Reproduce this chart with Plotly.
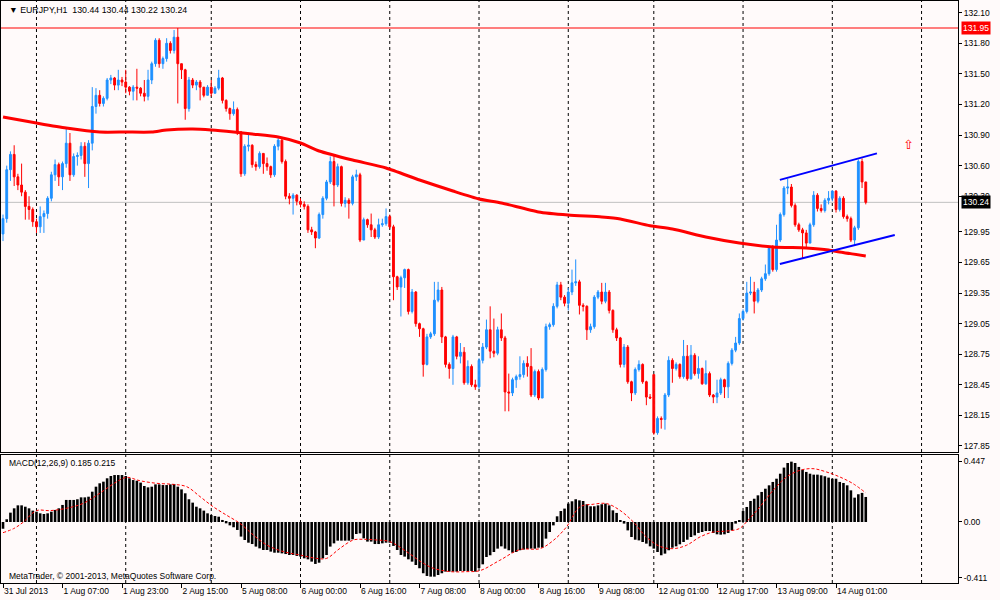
import plotly.graph_objects as go

# EURJPY H1, bar index 0 = 31 Jul 2013 15:00, last bar (232) = 14 Aug 2013 09:00
close = [130.08, 130.56, 130.71, 130.49, 130.41, 130.34, 130.20, 130.17, 130.05, 130.00,
         130.10, 130.13, 130.28, 130.51, 130.61, 130.49, 130.62, 130.82, 130.51, 130.69,
         130.70, 130.79, 130.62, 130.82, 131.18, 131.29, 131.21, 131.26, 131.44, 131.46,
         131.39, 131.44, 131.42, 131.37, 131.33, 131.37, 131.36, 131.31, 131.28, 131.44,
         131.60, 131.83, 131.60, 131.65, 131.80, 131.73, 131.86, 131.60, 131.54, 131.16,
         131.44, 131.39, 131.42, 131.37, 131.29, 131.37, 131.31, 131.36, 131.46, 131.24,
         131.16, 131.11, 131.15, 130.93, 130.52, 130.79, 130.80, 130.61, 130.59, 130.72,
         130.62, 130.59, 130.51, 130.79, 130.85, 130.64, 130.30, 130.28, 130.31, 130.25,
         130.22, 130.20, 129.97, 129.95, 129.89, 130.12, 130.28, 130.44, 130.64, 130.41,
         130.59, 130.23, 130.26, 130.23, 130.49, 130.51, 129.87, 130.07, 130.02, 129.97,
         129.90, 130.02, 130.03, 130.10, 130.00, 129.51, 129.41, 129.50, 129.58, 129.17,
         129.36, 129.05, 129.00, 128.65, 128.92, 128.95, 129.28, 129.38, 128.92, 128.65,
         128.61, 128.92, 128.73, 128.77, 128.47, 128.63, 128.45, 128.43, 128.69, 128.82,
         128.99, 128.78, 128.76, 128.99, 128.91, 128.38, 128.37, 128.50, 128.53, 128.55,
         128.66, 128.63, 128.35, 128.58, 128.32, 128.60, 129.02, 129.04, 129.22, 129.43,
         129.31, 129.25, 129.36, 129.45, 129.46, 129.23, 129.22, 128.99, 129.02, 129.31,
         129.36, 129.27, 129.36, 129.18, 128.99, 128.91, 128.65, 128.82, 128.48, 128.37,
         128.60, 128.65, 128.48, 128.33, 128.32, 127.98, 128.12, 128.11, 128.35, 128.69,
         128.61, 128.65, 128.53, 128.73, 128.51, 128.74, 128.56, 128.61, 128.46, 128.56,
         128.35, 128.33, 128.37, 128.50, 128.43, 128.66, 128.79, 128.86, 129.10, 129.17,
         129.35, 129.36, 129.27, 129.38, 129.49, 129.54, 129.79, 129.58, 129.87, 130.12,
         130.38, 130.39, 130.21, 130.02, 129.97, 129.94, 129.84, 130.02, 130.31, 130.18,
         130.16, 130.26, 130.28, 130.35, 130.17, 130.28, 130.10, 130.08, 129.87, 129.99,
         130.64, 130.44, 130.24]

high = [130.12, 130.60, 130.74, 130.80, 130.52, 130.62, 130.36, 130.30, 130.19, 130.08,
        130.20, 130.16, 130.30, 130.54, 130.66, 130.63, 130.64, 130.97, 130.92, 130.72,
        130.73, 130.83, 130.83, 130.85, 131.37, 131.36, 131.34, 131.28, 131.46, 131.49,
        131.47, 131.54, 131.47, 131.54, 131.38, 131.39, 131.55, 131.37, 131.44, 131.54,
        131.62, 131.85, 131.85, 131.67, 131.85, 131.82, 131.93, 131.95, 131.60, 131.55,
        131.47, 131.46, 131.44, 131.44, 131.37, 131.39, 131.44, 131.38, 131.54, 131.47,
        131.25, 131.17, 131.23, 131.17, 130.94, 130.81, 130.92, 130.81, 130.64, 130.74,
        130.72, 130.68, 130.60, 130.81, 130.87, 130.87, 130.66, 130.33, 130.33, 130.32,
        130.28, 130.25, 130.22, 130.00, 129.96, 130.14, 130.30, 130.46, 130.69, 130.70,
        130.62, 130.60, 130.29, 130.28, 130.51, 130.56, 130.53, 130.09, 130.08, 130.13,
        129.99, 130.08, 130.08, 130.18, 130.12, 130.02, 129.52, 129.52, 129.59, 129.59,
        129.39, 129.37, 129.06, 129.01, 128.95, 128.97, 129.46, 129.46, 129.41, 128.93,
        128.67, 128.94, 128.93, 128.86, 128.82, 128.69, 128.65, 128.50, 128.71, 128.86,
        129.09, 129.22, 129.10, 129.02, 129.15, 128.93, 128.56, 128.52, 128.55, 128.73,
        128.69, 128.73, 128.81, 128.60, 128.60, 128.62, 129.05, 129.06, 129.25, 129.46,
        129.46, 129.33, 129.40, 129.58, 129.68, 129.48, 129.25, 129.23, 129.05, 129.33,
        129.38, 129.45, 129.45, 129.38, 129.19, 129.01, 128.92, 128.85, 128.84, 128.49,
        128.62, 128.69, 128.66, 128.49, 128.36, 128.55, 128.14, 128.14, 128.37, 128.73,
        128.71, 128.67, 128.66, 128.89, 128.84, 128.84, 128.76, 128.73, 128.62, 128.69,
        128.58, 128.36, 128.50, 128.52, 128.51, 128.68, 128.81, 128.92, 129.15, 129.19,
        129.46, 129.51, 129.46, 129.40, 129.51, 129.63, 129.81, 129.82, 130.02, 130.14,
        130.40, 130.47, 130.42, 130.23, 130.04, 129.99, 129.97, 130.04, 130.35, 130.33,
        130.22, 130.28, 130.35, 130.36, 130.36, 130.30, 130.30, 130.12, 130.10, 130.01,
        130.66, 130.67, 130.44]

low = [129.86, 130.04, 130.45, 130.40, 130.36, 130.30, 130.07, 130.07, 130.00, 129.94,
       129.94, 129.94, 130.08, 130.25, 130.45, 130.40, 130.36, 130.58, 130.45, 130.49,
       130.60, 130.66, 130.49, 130.38, 130.75, 131.11, 131.18, 131.18, 131.24, 131.40,
       131.34, 131.34, 131.38, 131.31, 131.29, 131.24, 131.24, 131.28, 131.23, 131.24,
       131.40, 131.57, 131.56, 131.55, 131.62, 131.70, 131.70, 131.21, 131.45, 131.05,
       131.13, 131.36, 131.34, 131.24, 131.27, 131.29, 131.28, 131.31, 131.34, 131.21,
       131.13, 131.05, 131.09, 130.90, 130.49, 130.50, 130.74, 130.58, 130.55, 130.57,
       130.52, 130.55, 130.48, 130.49, 130.75, 130.62, 130.27, 130.22, 130.12, 130.21,
       130.19, 130.17, 129.94, 129.92, 129.79, 129.88, 130.08, 130.26, 130.42, 130.20,
       130.39, 130.20, 130.19, 130.08, 130.21, 130.45, 129.85, 129.87, 129.99, 129.90,
       129.88, 129.88, 130.00, 130.01, 129.98, 129.28, 129.38, 129.12, 129.40, 129.14,
       129.15, 129.02, 128.92, 128.53, 128.64, 128.90, 128.93, 129.26, 128.86, 128.62,
       128.51, 128.45, 128.70, 128.66, 128.45, 128.45, 128.43, 128.40, 128.41, 128.66,
       128.80, 128.71, 128.72, 128.74, 128.88, 128.19, 128.19, 128.34, 128.42, 128.50,
       128.52, 128.53, 128.33, 128.33, 128.30, 128.32, 128.58, 128.99, 129.02, 129.20,
       129.28, 129.22, 129.18, 129.33, 129.42, 129.14, 129.17, 128.89, 128.96, 129.00,
       129.29, 129.24, 129.25, 129.15, 128.96, 128.88, 128.62, 128.62, 128.46, 128.29,
       128.35, 128.58, 128.46, 128.25, 128.31, 127.96, 127.96, 128.02, 128.01, 128.33,
       128.47, 128.59, 128.51, 128.51, 128.49, 128.50, 128.54, 128.51, 128.45, 128.45,
       128.33, 128.27, 128.27, 128.35, 128.32, 128.32, 128.64, 128.77, 128.84, 129.08,
       129.15, 129.33, 129.15, 129.25, 129.36, 129.47, 129.52, 129.56, 129.56, 129.85,
       130.10, 130.32, 130.19, 130.00, 129.95, 129.69, 129.80, 129.87, 130.00, 130.15,
       130.14, 130.14, 130.22, 130.25, 130.14, 130.15, 130.08, 130.05, 129.85, 129.82,
       129.97, 130.38, 130.22]

first_open = 129.93
gap_opens = {175: 128.55}  # monday open after the weekend gap

macd = [-0.050, 0.020, 0.069, 0.101, 0.123, 0.123, 0.113, 0.101, 0.084, 0.076,
        0.064, 0.059, 0.064, 0.076, 0.089, 0.101, 0.126, 0.163, 0.163, 0.163,
        0.168, 0.182, 0.182, 0.187, 0.224, 0.261, 0.286, 0.298, 0.323, 0.340,
        0.347, 0.347, 0.347, 0.340, 0.323, 0.310, 0.305, 0.291, 0.266, 0.256,
        0.261, 0.278, 0.278, 0.273, 0.273, 0.278, 0.281, 0.261, 0.241, 0.212,
        0.168, 0.143, 0.113, 0.101, 0.084, 0.064, 0.052, 0.044, 0.039, 0.015,
        -0.010, -0.025, -0.039, -0.059, -0.108, -0.133, -0.153, -0.163, -0.182, -0.195,
        -0.207, -0.207, -0.219, -0.227, -0.227, -0.232, -0.237, -0.244, -0.244, -0.251,
        -0.256, -0.269, -0.276, -0.293, -0.310, -0.301, -0.269, -0.244, -0.182, -0.158,
        -0.138, -0.138, -0.138, -0.138, -0.128, -0.089, -0.084, -0.121, -0.145, -0.145,
        -0.163, -0.163, -0.158, -0.153, -0.153, -0.177, -0.207, -0.244, -0.256, -0.276,
        -0.293, -0.318, -0.342, -0.379, -0.399, -0.404, -0.404, -0.392, -0.379, -0.367,
        -0.367, -0.367, -0.367, -0.362, -0.362, -0.362, -0.362, -0.367, -0.340, -0.313,
        -0.259, -0.246, -0.222, -0.197, -0.180, -0.197, -0.209, -0.227, -0.222, -0.209,
        -0.204, -0.200, -0.197, -0.197, -0.190, -0.190, -0.123, -0.074, -0.025, 0.042,
        0.081, 0.099, 0.136, 0.153, 0.168, 0.160, 0.155, 0.131, 0.116, 0.116,
        0.123, 0.131, 0.136, 0.123, 0.086, 0.067, 0.012, -0.012, -0.062, -0.111,
        -0.131, -0.136, -0.148, -0.160, -0.180, -0.197, -0.222, -0.246, -0.234, -0.209,
        -0.190, -0.180, -0.165, -0.148, -0.131, -0.111, -0.099, -0.081, -0.074, -0.067,
        -0.067, -0.081, -0.091, -0.094, -0.091, -0.081, -0.062, -0.012, 0.012, 0.081,
        0.111, 0.155, 0.172, 0.197, 0.222, 0.246, 0.271, 0.296, 0.320, 0.357,
        0.402, 0.436, 0.446, 0.436, 0.407, 0.387, 0.370, 0.357, 0.350, 0.350,
        0.345, 0.338, 0.328, 0.320, 0.320, 0.296, 0.288, 0.271, 0.234, 0.180,
        0.205, 0.215, 0.185]

signal_idx = [0, 3, 5.5, 9, 12.6, 17, 21.6, 26, 30.6, 33.2, 36.8, 41.3, 45.8, 49.4, 53,
              56.5, 60, 63.7, 67.3, 70.9, 75.4, 79.8, 84.3, 87, 90.6, 94.2, 96.9, 100.4,
              104, 108.5, 113, 115.7, 120.2, 124.6, 128.2, 133.6, 139, 144.4, 148, 151.5,
              155.1, 158.7, 162.3, 165.9, 169.5, 173, 176.6, 180.2, 183.8, 187.4, 191,
              194.5, 198, 199.9, 203.5, 207.1, 210.7, 214.3, 217.8, 221.4, 225, 228.6, 232]
signal_val = [-0.079, -0.047, 0.0, 0.084, 0.084, 0.101, 0.138, 0.212, 0.298, 0.330, 0.305,
              0.286, 0.278, 0.261, 0.187, 0.113, 0.052, -0.010, -0.096, -0.170, -0.219,
              -0.244, -0.269, -0.269, -0.195, -0.133, -0.128, -0.133, -0.145, -0.219,
              -0.305, -0.342, -0.367, -0.367, -0.360, -0.283, -0.204, -0.197, -0.136,
              -0.037, 0.111, 0.131, 0.136, 0.086, 0.0, -0.111, -0.180, -0.197, -0.172,
              -0.111, -0.074, -0.067, -0.049, 0.0, 0.111, 0.234, 0.333, 0.382, 0.394,
              0.370, 0.333, 0.283, 0.215]

# moving average (red) read at sample bars
ma_idx = [0, 9, 17, 26, 33, 40, 44, 51, 56, 62, 67, 74, 80, 85, 94, 103, 112, 121, 128,
          134, 144, 152, 161, 166, 174, 180, 189, 198, 207, 216, 222, 225, 232]
ma_val = [131.077, 131.018, 130.969, 130.930, 130.930, 130.930, 130.950, 130.959, 130.950,
          130.930, 130.910, 130.881, 130.822, 130.744, 130.655, 130.577, 130.459, 130.351,
          130.273, 130.234, 130.146, 130.116, 130.096, 130.077, 130.010, 129.978, 129.900,
          129.841, 129.802, 129.792, 129.773, 129.753, 129.714]

day_starts = [9, 33, 56, 80, 104, 128, 152, 175, 199, 223, 247]
tick_idx = [0, 16, 32, 48, 64, 80, 96, 112, 128, 144, 160, 176, 192, 208, 224]
tick_text = ["31 Jul 2013", "1 Aug 07:00", "1 Aug 23:00", "2 Aug 15:00", "5 Aug 08:00",
             "6 Aug 00:00", "6 Aug 16:00", "7 Aug 08:00", "8 Aug 00:00", "8 Aug 16:00",
             "9 Aug 08:00", "12 Aug 01:00", "12 Aug 17:00", "13 Aug 09:00", "14 Aug 01:00"]
price_ticks = [127.85, 128.15, 128.45, 128.75, 129.05, 129.35, 129.65, 129.95,
               130.30, 130.60, 130.90, 131.20, 131.50, 131.80, 132.10]
macd_ticks = [0.447, 0.0, -0.411]
macd_tick_text = ["0.447", "0.00", "-0.411"]

red_level = 131.95
bid = 130.24
chan_top_x, chan_top_y = [208.9, 235.0], [130.46, 130.72]
chan_bot_x, chan_bot_y = [208.9, 239.8], [129.635, 129.92]
arrow_x, arrow_y = [243.5], [130.80]

n = len(close)
idx = list(range(n))
opens = [first_open] + close[:-1]
for k, v in gap_opens.items():
    opens[k] = v
high = [max(h, o, c) for h, o, c in zip(high, opens, close)]
low = [min(l, o, c) for l, o, c in zip(low, opens, close)]

BLUE = "#1E90FF"
RED = "#FF0000"
BG = "#FFFAFA"
FONT = "Liberation Sans"

fig = go.Figure()

fig.add_trace(go.Scatter(x=ma_idx, y=ma_val, mode="lines",
                         line=dict(color=RED, width=3, shape="spline", smoothing=0.6),
                         xaxis="x", yaxis="y", hoverinfo="skip"))
fig.add_trace(go.Candlestick(x=idx, open=opens, high=high, low=low, close=close,
                             increasing=dict(line=dict(color=BLUE, width=1), fillcolor=BLUE),
                             decreasing=dict(line=dict(color=RED, width=1), fillcolor=RED),
                             whiskerwidth=0, xaxis="x", yaxis="y"))
fig.add_trace(go.Scatter(x=chan_top_x, y=chan_top_y, mode="lines",
                         line=dict(color="#0000FF", width=2), xaxis="x", yaxis="y"))
fig.add_trace(go.Scatter(x=chan_bot_x, y=chan_bot_y, mode="lines",
                         line=dict(color="#0000FF", width=2), xaxis="x", yaxis="y"))
fig.add_trace(go.Scatter(x=arrow_x, y=arrow_y, mode="text", text=["⇧"],
                         textfont=dict(color=RED, size=13, family="DejaVu Sans"),
                         xaxis="x", yaxis="y"))

fig.add_trace(go.Bar(x=idx, y=macd, marker=dict(color="black", line=dict(width=0)),
                     xaxis="x2", yaxis="y2"))
fig.add_trace(go.Scatter(x=signal_idx, y=signal_val, mode="lines",
                         line=dict(color=RED, width=1, dash="3px,2px", shape="spline"),
                         xaxis="x2", yaxis="y2"))

shapes = []
for d in day_starts:
    for yr in ("y domain", "y2 domain"):
        shapes.append(dict(type="line", xref="x", yref=yr, x0=d, x1=d, y0=0, y1=1,
                           line=dict(color="black", width=1, dash="3px,3px"), layer="below"))
shapes.append(dict(type="line", xref="x domain", yref="y", x0=0, x1=1, y0=bid, y1=bid,
                   line=dict(color="#C0C0C0", width=1), layer="below"))
shapes.append(dict(type="line", xref="x domain", yref="y", x0=0, x1=1, y0=red_level,
                   y1=red_level, line=dict(color=RED, width=1), layer="below"))

last = n - 1
title_txt = "▼ EURJPY,H1\u00a0\u00a0{:.2f} {:.2f} {:.2f} {:.2f}".format(
    opens[last], high[last], low[last], close[last])
annotations = [
    dict(text=title_txt, x=0.006, y=0.9845, xref="paper", yref="paper", xanchor="left",
         yanchor="middle", showarrow=False, font=dict(size=8.8, color="black", family=FONT)),
    dict(text="MACD(12,26,9) 0.185 0.215", x=0.006, y=0.206, xref="paper", yref="paper",
         xanchor="left", yanchor="middle", showarrow=False,
         font=dict(size=8.5, color="black", family=FONT)),
    dict(text="MetaTrader, © 2001-2013, MetaQuotes Software Corp.", x=0.006, y=0.012,
         xref="paper", yref="paper", xanchor="left", yanchor="middle", showarrow=False,
         font=dict(size=8.5, color="black", family=FONT)),
    dict(text="{:.2f}".format(red_level), x=1, y=red_level, xref="paper", yref="y",
         xanchor="left", yanchor="middle", xshift=3, showarrow=False, bgcolor=RED,
         borderpad=1, font=dict(size=8.5, color="white", family=FONT)),
    dict(text="{:.2f}".format(bid), x=1, y=bid, xref="paper", yref="y",
         xanchor="left", yanchor="middle", xshift=3, showarrow=False, bgcolor="black",
         borderpad=1, font=dict(size=8.5, color="white", family=FONT)),
]

axis_common = dict(showline=True, linecolor="black", linewidth=1, mirror=True,
                   showgrid=False, zeroline=False, fixedrange=True)

fig.update_layout(
    width=1000, height=600,
    margin=dict(l=1, r=42, t=1, b=17),
    paper_bgcolor=BG, plot_bgcolor=BG,
    showlegend=False, bargap=0.3,
    font=dict(family=FONT, size=8.5, color="black"),
    shapes=shapes, annotations=annotations,
    xaxis=dict(domain=[0, 1], range=[-0.54, 256.8], anchor="y", showticklabels=False,
               ticks="", rangeslider=dict(visible=False), **axis_common),
    yaxis=dict(domain=[0.2251, 1], range=[127.791, 132.215], anchor="x", side="right",
               tickmode="array", tickvals=price_ticks,
               ticktext=["{:.2f}".format(v) for v in price_ticks],
               ticks="outside", ticklen=3, tickcolor="black", **axis_common),
    xaxis2=dict(domain=[0, 1], range=[-0.54, 256.8], anchor="y2", matches="x",
                tickmode="array", tickvals=tick_idx, ticktext=tick_text,
                ticks="outside", ticklen=4, tickcolor="black",
                ticklabelposition="outside right", **axis_common),
    yaxis2=dict(domain=[0, 0.2199], range=[-0.451, 0.495], anchor="x2", side="right",
                tickmode="array", tickvals=macd_ticks, ticktext=macd_tick_text,
                ticks="outside", ticklen=3, tickcolor="black", **axis_common),
)

# the page body has a default 8px margin; drop it so the chart sits at the window corner
fig.write_html("out.html", config={"displayModeBar": False},
               post_script="document.body.style.margin='0px';")
